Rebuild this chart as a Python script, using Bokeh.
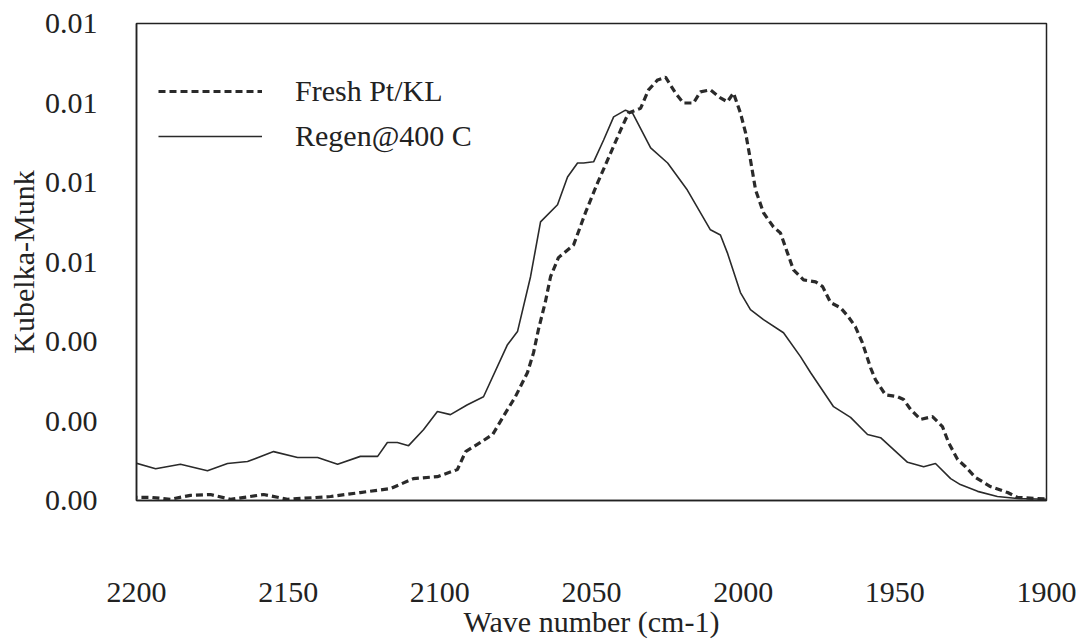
from bokeh.plotting import figure
from bokeh.models import Range1d, FixedTicker, NumeralTickFormatter, Legend, LegendItem
from bokeh.embed import file_html
from bokeh.resources import INLINE

# Regen@400 C (solid)
regen_wn = [2202.0, 2193.7, 2185.5, 2176.6, 2170.0, 2163.4, 2154.8, 2146.9, 2140.3, 2133.7,
            2126.2, 2120.5, 2117.3, 2114.0, 2110.3, 2105.4, 2100.8, 2096.5, 2090.9, 2085.6,
            2077.7, 2074.4, 2070.1, 2066.8, 2061.2, 2057.9, 2054.6, 2052.6, 2049.3, 2046.0,
            2042.7, 2038.8, 2036.5, 2030.5, 2024.9, 2018.4, 2010.8, 2007.5, 2005.2, 2000.9,
            1997.6, 1993.3, 1986.7, 1981.1, 1977.8, 1970.2, 1964.6, 1959.0, 1954.7, 1945.8,
            1940.5, 1936.6, 1931.6, 1928.4, 1922.7, 1916.2, 1909.6, 1898.7]
regen_km = [0.00098, 0.00080, 0.00091, 0.00075, 0.00093, 0.00098, 0.00123, 0.00108, 0.00108, 0.00091,
            0.00111, 0.00111, 0.00146, 0.00146, 0.00138, 0.00178, 0.00224, 0.00216, 0.00241, 0.00261,
            0.00392, 0.00425, 0.00563, 0.00701, 0.00744, 0.00814, 0.00849, 0.00849, 0.00852, 0.00907,
            0.00965, 0.00982, 0.00975, 0.00887, 0.00849, 0.00781, 0.00681, 0.00668, 0.00623, 0.00523,
            0.00480, 0.00455, 0.00422, 0.00362, 0.00322, 0.00236, 0.00209, 0.00166, 0.00158, 0.00096,
            0.00085, 0.00093, 0.00055, 0.00040, 0.00023, 0.00010, 0.00005, 0.00003]

# Fresh Pt/KL (dashed)
fresh_wn = [2202.0, 2195.4, 2188.8, 2182.2, 2175.6, 2169.0, 2158.1, 2150.2, 2136.0, 2126.2,
            2116.3, 2108.7, 2100.8, 2094.2, 2091.5, 2086.6, 2082.6, 2078.3, 2075.1, 2071.1,
            2069.1, 2067.5, 2065.2, 2063.5, 2060.9, 2055.9, 2052.0, 2048.0, 2043.7, 2040.4,
            2037.8, 2033.8, 2031.2, 2028.2, 2025.6, 2022.3, 2019.7, 2016.4, 2014.1, 2010.8,
            2007.5, 2005.2, 2003.2, 2000.9, 1999.2, 1997.6, 1995.9, 1993.3, 1990.0, 1987.7,
            1985.4, 1983.4, 1980.1, 1976.1, 1973.8, 1971.2, 1967.9, 1965.3, 1963.0, 1960.7,
            1958.0, 1956.4, 1953.1, 1949.1, 1947.1, 1944.8, 1941.5, 1937.6, 1934.3, 1932.3,
            1929.3, 1926.7, 1923.4, 1918.5, 1912.8, 1909.6, 1898.7]
fresh_km = [0.00008, 0.00008, 0.00003, 0.00013, 0.00015, 0.00003, 0.00015, 0.00003, 0.00010, 0.00020,
            0.00030, 0.00055, 0.00060, 0.00078, 0.00123, 0.00146, 0.00166, 0.00221, 0.00261, 0.00322,
            0.00372, 0.00430, 0.00500, 0.00563, 0.00611, 0.00643, 0.00724, 0.00799, 0.00874, 0.00932,
            0.00975, 0.00987, 0.01033, 0.01058, 0.01065, 0.01025, 0.01000, 0.01000, 0.01028, 0.01033,
            0.01013, 0.01003, 0.01025, 0.00975, 0.00925, 0.00857, 0.00781, 0.00724, 0.00688, 0.00673,
            0.00623, 0.00580, 0.00555, 0.00550, 0.00538, 0.00498, 0.00485, 0.00462, 0.00437, 0.00397,
            0.00334, 0.00304, 0.00266, 0.00261, 0.00254, 0.00229, 0.00204, 0.00211, 0.00186, 0.00146,
            0.00103, 0.00085, 0.00058, 0.00035, 0.00020, 0.00008, 0.00003]

x_ticks = [2200, 2150, 2100, 2050, 2000, 1950, 1900]
y_ticks = [0.0, 0.002, 0.004, 0.006, 0.008, 0.010, 0.012]

FONT = "Liberation Serif"
TXT = "#222222"

p = figure(width=1083, height=640, output_backend="svg", toolbar_location=None,
           x_range=Range1d(2200, 1900), y_range=Range1d(0, 0.012),
           min_border_left=136, min_border_right=37, min_border_top=23, min_border_bottom=139)
p.background_fill_color = "white"
p.border_fill_color = "white"
p.outline_line_color = "#222222"
p.outline_line_width = 1.5
p.xgrid.visible = False
p.ygrid.visible = False

r_fresh = p.line(fresh_wn, fresh_km, line_color="#2a2a2a", line_width=3.2, line_dash="7 4")
r_regen = p.line(regen_wn, regen_km, line_color="#2a2a2a", line_width=1.6)

for ax in (p.xaxis[0], p.yaxis[0]):
    ax.major_tick_out = 0
    ax.major_tick_in = 0
    ax.minor_tick_out = 0
    ax.minor_tick_in = 0
    ax.axis_line_color = "#222222"
    ax.axis_line_width = 1.5
    ax.major_label_text_font = FONT
    ax.major_label_text_font_size = "30px"
    ax.major_label_text_color = TXT
    ax.axis_label_text_font = FONT
    ax.axis_label_text_font_size = "30px"
    ax.axis_label_text_font_style = "normal"
    ax.axis_label_text_color = TXT

p.xaxis[0].ticker = FixedTicker(ticks=x_ticks)
p.xaxis[0].major_label_standoff = 82
p.xaxis[0].axis_label = "Wave number (cm-1)"
p.xaxis[0].axis_label_standoff = 0

p.yaxis[0].ticker = FixedTicker(ticks=y_ticks)
p.yaxis[0].formatter = NumeralTickFormatter(format="0.00")
p.yaxis[0].major_label_standoff = 39
p.yaxis[0].axis_label = "Kubelka-Munk"
p.yaxis[0].axis_label_standoff = 2

legend = Legend(items=[LegendItem(label="Fresh Pt/KL", renderers=[r_fresh]),
                       LegendItem(label="Regen@400 C", renderers=[r_regen])],
                location=(22, 347), orientation="vertical",
                glyph_width=104, glyph_height=30, label_height=30, label_standoff=33,
                spacing=11, padding=0, margin=0,
                label_text_font=FONT, label_text_font_size="30px", label_text_color=TXT,
                border_line_color=None, background_fill_alpha=0)
p.add_layout(legend, "center")

open("out.html", "w").write(file_html(p, INLINE))
